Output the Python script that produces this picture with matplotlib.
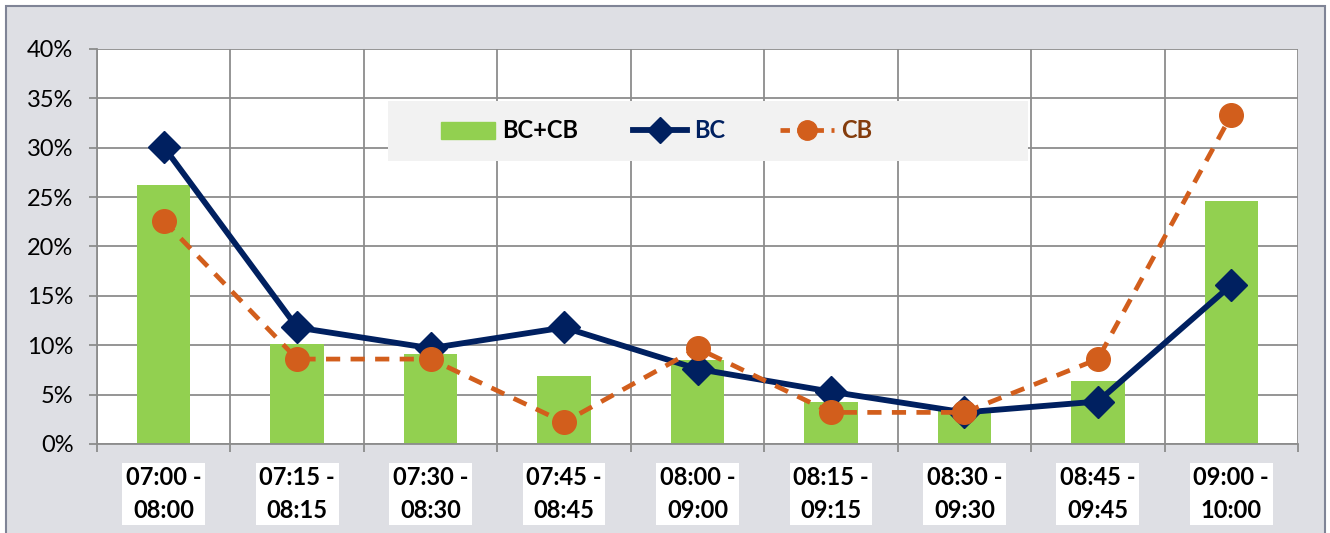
import matplotlib.pyplot as plt
from matplotlib.patches import Rectangle
from matplotlib.lines import Line2D
from matplotlib.ticker import PercentFormatter
import numpy as np

# share of trips per hour window, in percent
periods = ['07:00 -\n08:00', '07:15 -\n08:15', '07:30 -\n08:30', '07:45 -\n08:45',
           '08:00 -\n09:00', '08:15 -\n09:15', '08:30 -\n09:30', '08:45 -\n09:45',
           '09:00 -\n10:00']
bc_cb = [26.2, 10.1, 9.1, 6.9, 8.5, 4.3, 3.4, 6.4, 24.6]
bc = [30.1, 11.8, 9.7, 11.8, 7.6, 5.3, 3.2, 4.3, 16.1]
cb = [22.6, 8.6, 8.6, 2.2, 9.7, 3.2, 3.2, 8.6, 33.3]

GREEN = '#92D050'
NAVY = '#002060'
ORANGE = '#D25E1C'
BROWN = '#843C0C'
BG = '#DEDFE4'
GRID = '#8C8C8C'

plt.rcParams['font.family'] = ['Lato', 'DejaVu Sans']

W, H = 1330, 533
fig = plt.figure(figsize=(W / 100, H / 100), dpi=100)
fig.patch.set_facecolor('white')
# chart area frame
fig.patches.append(Rectangle((6 / W, -0.01), 1319 / W, 1 - 6 / H + 0.01,
                             transform=fig.transFigure, facecolor=BG,
                             edgecolor='#7F8496', linewidth=1.5, zorder=0))

ax = fig.add_axes([97 / W, 89 / H, 1201 / W, 395 / H])
ax.set_zorder(1)
ax.set_facecolor('white')

x = np.arange(len(periods))
ax.bar(x, bc_cb, width=0.4, color=GREEN, zorder=2)
ax.plot(x, bc, color=NAVY, lw=4.2, marker='D', ms=16, zorder=4)
ax.plot(x, cb, color=ORANGE, lw=3.4, ls=(0, (3, 2.2)), marker='o', ms=17,
        zorder=5)

ax.set_xlim(-0.5, len(periods) - 0.5)
ax.set_ylim(0, 40)
ax.set_yticks(np.arange(0, 41, 5))
ax.yaxis.set_major_formatter(PercentFormatter(decimals=0))

ax.set_xticks(np.arange(-0.5, len(periods), 1))
ax.set_xticklabels([])
ax.set_xticks(x, minor=True)
ax.set_xticklabels(periods, minor=True, fontsize=17, fontweight='bold',
                   linespacing=1.5,
                   bbox=dict(facecolor='white', edgecolor='none', pad=2.5))
ax.tick_params(axis='x', which='minor', length=0, pad=16)
ax.tick_params(axis='x', which='major', length=6, color=GRID, width=1.3)
ax.tick_params(axis='y', length=6, color=GRID, width=1.3, labelsize=17,
               pad=11)

ax.grid(True, which='major', color=GRID, lw=1.3, zorder=1)
ax.set_axisbelow(True)
for side in ['top', 'right']:
    ax.spines[side].set_visible(False)
for side in ['left', 'bottom']:
    ax.spines[side].set_color(GRID)
    ax.spines[side].set_linewidth(1.3)

# legend panel
ax.add_patch(Rectangle(((388 - 97) / 1201, (444 - 161) / 395), 640 / 1201, 60 / 395,
                       transform=ax.transAxes, facecolor='#F2F2F2',
                       edgecolor='none', zorder=3))
handles = [Rectangle((0, 0), 1, 1, color=GREEN),
           Line2D([], [], color=NAVY, lw=4.2, marker='D', ms=13),
           Line2D([], [], color=ORANGE, lw=3.4, ls=(0, (2, 1.6)), marker='o', ms=14)]
leg = ax.legend(handles, ['BC+CB', 'BC', 'CB'], loc='center left',
                bbox_to_anchor=((442 - 97 - 8) / 1201, (444 - 131) / 395), ncol=3,
                prop={'weight': 'bold', 'size': 17}, frameon=False,
                handlelength=2.3, handleheight=0.75, handletextpad=0.3,
                columnspacing=2.3, borderpad=0.3, borderaxespad=0)
leg.set_zorder(3.5)
for t, c in zip(leg.get_texts(), ['black', NAVY, BROWN]):
    t.set_color(c)

fig.savefig('out.png', dpi=100, facecolor=fig.get_facecolor())
